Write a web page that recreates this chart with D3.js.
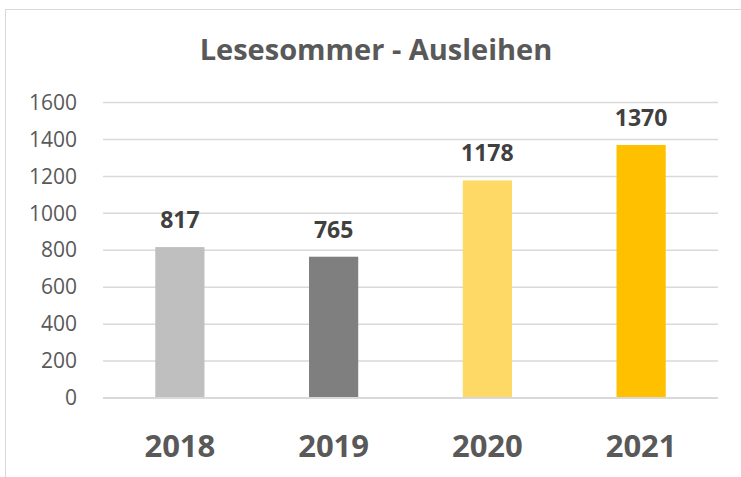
<!DOCTYPE html>
<html>
<head>
<meta charset="utf-8">
<script src="https://cdn.jsdelivr.net/npm/d3@7"></script>
<style>
  body { margin: 0; background: #fff; }
  svg { display: block; font-family: "Open Sans", sans-serif; }
</style>
</head>
<body>
<div id="chart"></div>
<script>
// data
var years = ["2018", "2019", "2020", "2021"];
var loans = [817, 765, 1178, 1370];
var barColors = ["#BFBFBF", "#7F7F7F", "#FFD966", "#FFC000"];
var yTicks = [0, 200, 400, 600, 800, 1000, 1200, 1400, 1600];

var W = 741, H = 477;
var plot = { left: 103, right: 718, top: 102.5, bottom: 398 };

var svg = d3.select("#chart").append("svg")
    .attr("width", W)
    .attr("height", H);

// chart frame
svg.append("rect")
    .attr("x", 5.5).attr("y", 9.5)
    .attr("width", 800).attr("height", 600)
    .attr("fill", "#fff")
    .attr("stroke", "#D9D9D9")
    .attr("stroke-width", 1);

var x = d3.scaleBand()
    .domain(years)
    .range([plot.left, plot.right])
    .paddingInner(0.68)
    .paddingOuter(0.34);

var y = d3.scaleLinear()
    .domain([0, 1600])
    .range([plot.bottom, plot.top]);

// title
svg.append("text")
    .attr("x", 376)
    .attr("y", 60)
    .attr("text-anchor", "middle")
    .attr("font-size", "29px")
    .attr("font-weight", "bold")
    .attr("fill", "#595959")
    .text("Lesesommer - Ausleihen");

// gridlines
svg.append("g")
    .selectAll("line")
    .data(yTicks.filter(function(d) { return d > 0; }))
    .enter()
    .append("line")
        .attr("x1", plot.left)
        .attr("x2", plot.right)
        .attr("y1", function(d) { return y(d); })
        .attr("y2", function(d) { return y(d); })
        .attr("stroke", "#D9D9D9")
        .attr("stroke-width", 1.5);

// y axis labels
var yAxis = svg.append("g")
    .attr("transform", "translate(" + plot.left + ",0)")
    .call(d3.axisLeft(y).tickValues(yTicks).tickFormat(d3.format("d")).tickSize(0).tickPadding(26));
yAxis.select(".domain").remove();
yAxis.selectAll("text")
    .attr("font-family", "Open Sans, sans-serif")
    .attr("font-size", "21px")
    .attr("fill", "#595959");

// bars
svg.append("g")
    .selectAll("rect")
    .data(years)
    .enter()
    .append("rect")
        .attr("x", function(d) { return x(d); })
        .attr("y", function(d, i) { return y(loans[i]); })
        .attr("width", x.bandwidth())
        .attr("height", function(d, i) { return y(0) - y(loans[i]); })
        .attr("fill", function(d, i) { return barColors[i]; });

// value labels
svg.append("g")
    .selectAll("text")
    .data(years)
    .enter()
    .append("text")
        .attr("x", function(d) { return x(d) + x.bandwidth() / 2; })
        .attr("y", function(d, i) { return y(loans[i]) - 19; })
        .attr("text-anchor", "middle")
        .attr("font-size", "23px")
        .attr("font-weight", "bold")
        .attr("fill", "#404040")
        .text(function(d, i) { return loans[i]; });

// x axis line
svg.append("line")
    .attr("x1", plot.left)
    .attr("x2", plot.right)
    .attr("y1", y(0))
    .attr("y2", y(0))
    .attr("stroke", "#D9D9D9")
    .attr("stroke-width", 2);

// x axis labels
var xAxis = svg.append("g")
    .attr("transform", "translate(0," + y(0) + ")")
    .call(d3.axisBottom(x).tickSize(0).tickPadding(0));
xAxis.select(".domain").remove();
xAxis.selectAll("text")
    .attr("dy", null)
    .attr("y", 59)
    .attr("font-family", "Open Sans, sans-serif")
    .attr("font-size", "31px")
    .attr("font-weight", "bold")
    .attr("fill", "#595959");
</script>
</body>
</html>
